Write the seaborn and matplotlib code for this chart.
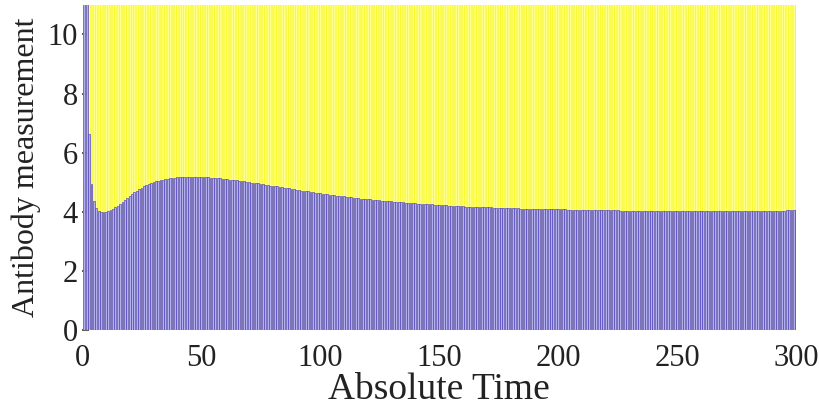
import matplotlib
matplotlib.use("Agg")
import matplotlib.pyplot as plt
import seaborn as sns
import numpy as np
import pandas as pd

# Absolute time steps (1..300)
time = list(range(1, 301))

antibody = [
    30.0, 13.0, 6.63, 4.95, 4.38, 4.14, 4.04, 4.00, 3.99, 4.01,
    4.03, 4.06, 4.10, 4.15, 4.20, 4.26, 4.33, 4.40, 4.47, 4.54,
    4.60, 4.66, 4.72, 4.77, 4.82, 4.86, 4.90, 4.94, 4.97, 5.00,
    5.03, 5.05, 5.07, 5.09, 5.11, 5.12, 5.14, 5.15, 5.16, 5.17,
    5.18, 5.18, 5.19, 5.19, 5.19, 5.19, 5.19, 5.19, 5.19, 5.18,
    5.18, 5.17, 5.17, 5.16, 5.15, 5.15, 5.14, 5.13, 5.12, 5.11,
    5.10, 5.09, 5.08, 5.07, 5.06, 5.05, 5.04, 5.03, 5.02, 5.00,
    4.99, 4.98, 4.97, 4.96, 4.94, 4.93, 4.92, 4.91, 4.89, 4.88,
    4.87, 4.86, 4.84, 4.83, 4.82, 4.80, 4.79, 4.78, 4.76, 4.75,
    4.74, 4.72, 4.71, 4.70, 4.69, 4.67, 4.66, 4.65, 4.64, 4.62,
    4.61, 4.60, 4.59, 4.58, 4.57, 4.56, 4.55, 4.54, 4.53, 4.52,
    4.51, 4.50, 4.49, 4.48, 4.47, 4.46, 4.45, 4.44, 4.43, 4.43,
    4.42, 4.41, 4.40, 4.39, 4.39, 4.38, 4.37, 4.36, 4.36, 4.35,
    4.34, 4.34, 4.33, 4.32, 4.32, 4.31, 4.30, 4.30, 4.29, 4.29,
    4.28, 4.27, 4.27, 4.26, 4.26, 4.25, 4.25, 4.24, 4.24, 4.23,
    4.23, 4.22, 4.22, 4.21, 4.21, 4.20, 4.20, 4.20, 4.19, 4.19,
    4.18, 4.18, 4.18, 4.17, 4.17, 4.17, 4.16, 4.16, 4.16, 4.15,
    4.15, 4.15, 4.14, 4.14, 4.14, 4.13, 4.13, 4.13, 4.13, 4.12,
    4.12, 4.12, 4.12, 4.11, 4.11, 4.11, 4.11, 4.10, 4.10, 4.10,
    4.10, 4.10, 4.09, 4.09, 4.09, 4.09, 4.09, 4.08, 4.08, 4.08,
    4.08, 4.08, 4.08, 4.07, 4.07, 4.07, 4.07, 4.07, 4.07, 4.06,
    4.06, 4.06, 4.06, 4.06, 4.06, 4.05, 4.05, 4.05, 4.05, 4.05,
    4.05, 4.05, 4.05, 4.05, 4.05, 4.04, 4.04, 4.04, 4.04, 4.04,
    4.04, 4.04, 4.04, 4.04, 4.04, 4.04, 4.04, 4.04, 4.04, 4.04,
    4.04, 4.04, 4.04, 4.04, 4.04, 4.03, 4.03, 4.03, 4.03, 4.03,
    4.03, 4.03, 4.03, 4.03, 4.03, 4.03, 4.03, 4.03, 4.03, 4.03,
    4.03, 4.03, 4.03, 4.03, 4.03, 4.03, 4.03, 4.03, 4.03, 4.03,
    4.03, 4.03, 4.03, 4.03, 4.03, 4.04, 4.04, 4.04, 4.04, 4.04,
    4.04, 4.04, 4.04, 4.04, 4.04, 4.04, 4.04, 4.04, 4.04, 4.04,
    4.04, 4.04, 4.04, 4.04, 4.04, 4.05, 4.05, 4.05, 4.05, 4.05,
]

# Stacked remainder (yellow bars); extends beyond the visible range
remainder = [8.0] * 300

x_ticks = [0, 50, 100, 150, 200, 250, 300]
y_ticks = [0, 2, 4, 6, 8, 10]

df = pd.DataFrame({"time": time, "antibody": antibody, "remainder": remainder})
df["total"] = df["antibody"] + df["remainder"]

sns.set_theme(style="white")
plt.rcParams["font.family"] = ["Liberation Serif", "DejaVu Serif"]

fig = plt.figure(figsize=(8.2, 4.08), dpi=100)
ax = fig.add_axes([0.100, 0.191, 0.871, 0.797])

sns.barplot(data=df, x="time", y="total", native_scale=True, width=0.75,
            color="#ffff8c", edgecolor="#f8f800", linewidth=0.4,
            saturation=1, errorbar=None, ax=ax)
sns.barplot(data=df, x="time", y="antibody", native_scale=True, width=0.75,
            color="#b2b0ee", edgecolor="#4a3cc6", linewidth=0.45,
            saturation=1, errorbar=None, ax=ax)

ax.set_xlim(0, 300)
ax.set_ylim(0, 11)
ax.set_xticks(x_ticks)
ax.set_yticks(y_ticks)
ax.set_xticklabels([str(v) for v in x_ticks])
ax.set_yticklabels([str(v) for v in y_ticks])
ax.tick_params(axis="y", direction="in", length=5, width=1.2, color="#404040",
               labelsize=22, pad=3, labelcolor="#222222", left=True)
ax.tick_params(axis="x", length=0, labelsize=22, pad=10, labelcolor="#222222")
for s in ax.spines.values():
    s.set_visible(False)
ax.set_xlabel("Absolute Time", fontsize=27, color="#222222", labelpad=0)
ax.set_ylabel("Antibody measurement", fontsize=23, color="#222222", labelpad=5)

fig.savefig("out.png", dpi=100)
